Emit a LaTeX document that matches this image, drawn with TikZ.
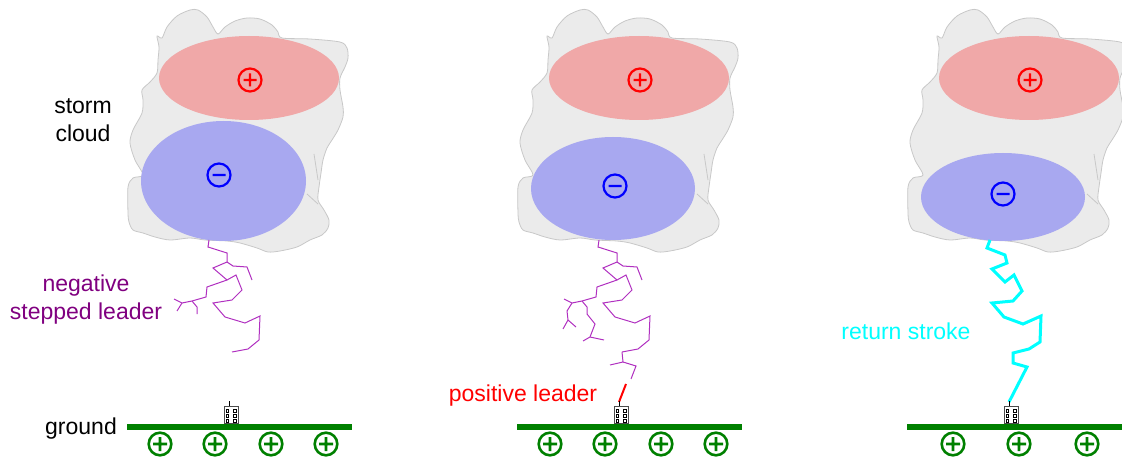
\documentclass[tikz,border=0pt]{standalone}
\usepackage{fontspec}
\setmainfont{Liberation Sans}

\definecolor{cloudgrey}{RGB}{235,235,235}
\definecolor{cloudedge}{RGB}{200,200,200}
\definecolor{posfill}{RGB}{240,168,168}
\definecolor{negfill}{RGB}{168,168,240}
\definecolor{groundgreen}{RGB}{0,128,0}
\definecolor{leaderpurple}{RGB}{176,48,192}
\definecolor{labelpurple}{RGB}{128,0,128}
\definecolor{strokecyan}{RGB}{0,255,255}
\definecolor{leaderred}{RGB}{255,0,0}
\definecolor{chargeblue}{RGB}{0,0,255}

\tikzset{
  labeltext/.style={font=\fontsize{23}{28}\selectfont, align=center},
  stepped/.style={leaderpurple, line width=1pt},
  chargesign/.style={line width=2.2pt},
  groundbar/.style={groundgreen, line width=6pt},
}

% cloud body with the upper (positive) charge region
\newcommand{\stormcloud}{%
  \filldraw[fill=cloudgrey, draw=cloudedge, line width=0.8pt]
    plot[smooth cycle, tension=0.5] coordinates {
      (159,47) (157,36) (162,38) (167,27) (177,16) (190,10) (198,10) (207,17)
      (213,27) (218,34) (225,27) (235,21) (247,18) (260,19) (272,25) (278,32)
      (282,38) (310,39) (340,42) (347,48) (348,58) (345,67) (340,78) (340,90)
      (343,107) (343,117) (338,130) (332,140) (327,148) (323,160) (321,173)
      (319,187) (318,200) (324,210) (329,220) (328,228) (322,235) (310,240)
      (297,247) (280,251) (268,252) (257,248) (240,243) (227,241) (205,240)
      (190,238) (170,240) (155,237) (143,233) (133,230) (129,222) (128,213)
      (128,187) (133,178) (143,175) (135,160) (130,143) (133,130) (142,113)
      (143,100) (142,90) (150,82) (157,73) (158,60)};
  \draw[cloudedge, line width=0.8pt] (314,154) -- (318,180);
  \draw[cloudedge, line width=0.8pt] (307,194) -- (318,204);
  \fill[posfill] (249,78) ellipse [x radius=90, y radius=42];
  \draw[leaderred, chargesign] (250,80) circle (11.5) +(-6.5,0) -- +(6.5,0) +(0,-6.5) -- +(0,6.5);
}

\newcommand{\negcharge}[1]{%
  \draw[chargeblue, chargesign] #1 circle (11.5) +(-6.5,0) -- +(6.5,0);}

\newcommand{\groundplus}[1]{%
  \draw[groundgreen, line width=2.6pt] #1 circle (11.3) +(-7,0) -- +(7,0) +(0,-7) -- +(0,7);}

% small tower block standing on the ground
\newcommand{\building}{%
  \draw[black!70, line width=0.6pt, fill=white] (224,406) rectangle (238,423);
  \draw[line width=0.8pt] (229,406) -- (229,401);
  \foreach \wy in {409.5,414.5,419.5} {
    \draw[line width=0.5pt] (226,\wy) rectangle +(2.5,2.5) (233.5,\wy) rectangle +(2.5,2.5);
  }
}

% branching leader below the cloud
\newcommand{\stepleader}{%
  \draw[stepped] (209,240) -- (208,247) -- (227,253) -- (227,262) -- (233,266) -- (247,267) -- (252,280);
  \draw[stepped] (227,262) -- (213,268) -- (227,280) -- (236,275) -- (242,290) -- (232,300) -- (213,303)
    -- (225,317) -- (245,323) -- (260,316) -- (259,340) -- (248,349) -- (232,352);
  \draw[stepped] (227,280) -- (207,287) -- (206,297) -- (192,301) -- (182,303) -- (174,299);
  \draw[stepped] (182,303) -- (177,311);
  \draw[stepped] (192,301) -- (197,307) -- (197,314);
}

\begin{document}
\begin{tikzpicture}[x=1pt, y=-1pt]
\useasboundingbox (0,0) rectangle (1122,457);

% first stage
\stormcloud
\fill[negfill] (223.5,181) ellipse [x radius=82.5, y radius=60];
\negcharge{(219,175)}
\stepleader
\draw[groundbar] (127,427) -- (352,427);
\groundplus{(160,444)} \groundplus{(215,444)} \groundplus{(271,444)} \groundplus{(326,444)}
\building
\node[labeltext] (cloudlbl) at (83,120) {storm\\cloud};
\node[labeltext, labelpurple] (steplbl) at (86,300) {negative\\stepped leader};
\node[labeltext] (groundlbl) at (81,429) {ground};

% second stage
\begin{scope}[xshift=390]
\stormcloud
\fill[negfill] (223,188.5) ellipse [x radius=82, y radius=51.5];
\negcharge{(225,186)}
\stepleader
\draw[stepped] (232,352) -- (233,362) -- (220,365);
\draw[stepped] (233,362) -- (246,366) -- (241,379);
\draw[stepped] (177,311) -- (178,320) -- (173,329);
\draw[stepped] (178,320) -- (186,327);
\draw[stepped] (197,314) -- (205,324) -- (200,337) -- (193,341);
\draw[stepped] (200,337) -- (214,340);
\draw[leaderred, line width=2pt] (236,384) -- (229,402);
\draw[groundbar] (127,427) -- (352,427);
\groundplus{(160,444)} \groundplus{(215,444)} \groundplus{(271,444)} \groundplus{(326,444)}
\building
\end{scope}
\node[labeltext, leaderred] (poslbl) at (523,396) {positive leader};

% third stage
\begin{scope}[xshift=780]
\stormcloud
\fill[negfill] (223,197) ellipse [x radius=82, y radius=44];
\negcharge{(223,194)}
\draw[strokecyan, line width=3pt] (210,240) -- (207,248) -- (225,255) -- (227,263) -- (212,269) -- (225,282)
  -- (234,275) -- (242,291) -- (233,301) -- (212,303) -- (224,317) -- (243,324) -- (261,316)
  -- (260,342) -- (249,349) -- (233,353) -- (233,363) -- (247,367) -- (229,402);
\draw[groundbar] (127,427) -- (352,427);
\groundplus{(173,444)} \groundplus{(239,444)} \groundplus{(307,444)}
\building
\end{scope}
\node[labeltext, strokecyan] (returnlbl) at (906,331) {return stroke};
\end{tikzpicture}
\end{document}
